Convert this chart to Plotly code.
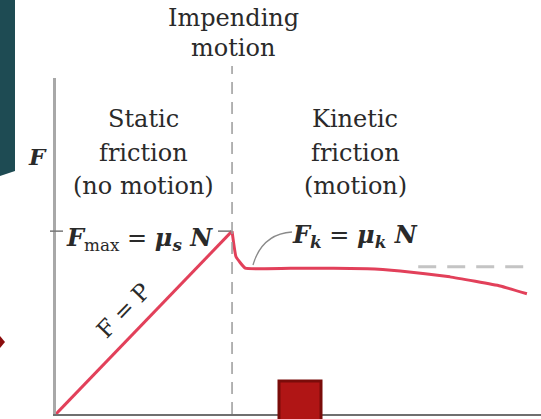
import plotly.graph_objects as go

# ---- data (P = applied force, F = friction force, arbitrary units) ----
P_static = [0.0, 4.0]
F_static = [0.0, 4.0]
P_kinetic = [4.0, 4.09, 4.30, 5.55, 7.07, 7.82, 8.95, 10.09, 10.70]
F_kinetic = [4.0, 3.44, 3.19, 3.19, 3.18, 3.13, 3.00, 2.80, 2.63]
P_impending = 4.0
F_max = 4.0
F_k_level = 3.22
P_k_dash = [8.23, 10.68]
F_k_dash = [F_k_level, F_k_level]

W, H = 541, 419
ML, MR, MT, MB = 56, 0, 78, 5
PW, PH = W - ML - MR, H - MT - MB
XR = [0, 11.02]
YR = [0, 7.35]


def px(x):
    return (x - ML) / PW


def py(y):
    return (H - MB - y) / PH


RED = "#e2405a"
TXT = "#2a2a2a"
FONT = "DejaVu Serif"

fig = go.Figure()
fig.add_trace(go.Scatter(x=P_static, y=F_static, mode="lines",
                         line=dict(color=RED, width=3), hoverinfo="skip"))
fig.add_trace(go.Scatter(x=P_kinetic, y=F_kinetic, mode="lines",
                         line=dict(color=RED, width=3, shape="spline", smoothing=0.3),
                         hoverinfo="skip"))
fig.add_trace(go.Scatter(x=P_k_dash, y=F_k_dash, mode="lines",
                         line=dict(color="#c4c4c4", width=3, dash="18px,11px"),
                         hoverinfo="skip"))

shapes = []
# impending motion dashed vertical
shapes.append(dict(type="line", xref="x", yref="paper", x0=P_impending, x1=P_impending,
                   y0=0, y1=py(66), line=dict(color="#9a9a9a", width=1.5, dash="12px,8px")))
# F_max dashes
shapes.append(dict(type="line", xref="paper", yref="y", x0=px(50), x1=px(63),
                   y0=F_max, y1=F_max, line=dict(color="#777", width=1.5)))
shapes.append(dict(type="line", xref="paper", yref="y", x0=px(218), x1=px(231),
                   y0=F_max, y1=F_max, line=dict(color="#777", width=1.5)))
# Fk leader curve
shapes.append(dict(type="path", xref="paper", yref="paper",
                   path=f"M {px(253)} {py(265)} Q {px(262)} {py(234)} {px(292)} {py(232)}",
                   line=dict(color="#8a8a8a", width=1.3)))
# background artifacts (slide decorations)
shapes.append(dict(type="path", xref="paper", yref="paper", layer="above",
                   path=f"M {px(0)} {py(0)} L {px(15)} {py(0)} L {px(15)} {py(171)} L {px(0)} {py(176)} Z",
                   fillcolor="#1e4b53", line=dict(width=0)))
shapes.append(dict(type="path", xref="paper", yref="paper", layer="above",
                   path=f"M {px(0)} {py(336)} L {px(5)} {py(342)} L {px(0)} {py(348)} Z",
                   fillcolor="#8b0d0d", line=dict(width=0)))
shapes.append(dict(type="rect", xref="paper", yref="paper", layer="above",
                   x0=px(279), x1=px(321), y0=py(421), y1=py(381),
                   fillcolor="#b01515", line=dict(color="#7a0c0a", width=3)))

ann = []


def t(x, y, s, size=24, **kw):
    ann.append(dict(x=px(x), y=py(y), xref="paper", yref="paper", text=s, showarrow=False,
                    font=dict(family=FONT, size=size, color=TXT),
                    xanchor="center", yanchor="middle", **kw))


t(233, 18, "Impending")
t(233, 48, "motion")
t(143, 119, "Static")
t(143, 153, "friction")
t(143, 186, "(no motion)")
t(355, 119, "Kinetic")
t(355, 153, "friction")
t(355, 186, "(motion)")
t(37, 156, "<b><i>F</i></b>", size=23)
t(139, 239, "<b><i>F</i></b><sub>max</sub> = <b><i>μ<sub>s</sub> N</i></b>", size=24)
t(355, 236, "<b><i>F<sub>k</sub></i></b> = <b><i>μ<sub>k</sub> N</i></b>", size=24)
t(123, 311, "F = P", size=23, textangle=-46)

fig.update_layout(
    width=W, height=H,
    margin=dict(l=ML, r=MR, t=MT, b=MB),
    paper_bgcolor="white", plot_bgcolor="white",
    showlegend=False,
    xaxis=dict(range=XR, showgrid=False, zeroline=False, showticklabels=False, ticks="",
               showline=True, linecolor="#6f6f6f", linewidth=2),
    yaxis=dict(range=YR, showgrid=False, zeroline=False, showticklabels=False, ticks="",
               showline=True, linecolor="#a8a8a8", linewidth=2.5),
    shapes=shapes,
    annotations=ann,
)

fig.write_html("out.html", config={"displayModeBar": False},
               post_script="document.body.style.margin='0';document.body.style.padding='0';")
